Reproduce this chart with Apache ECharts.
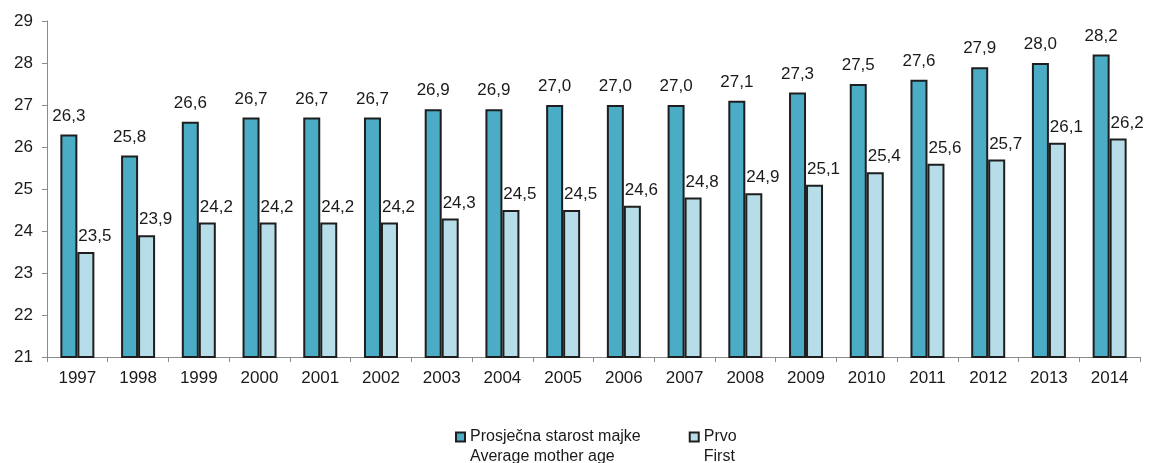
<!DOCTYPE html>
<html>
<head>
<meta charset="utf-8">
<script src="https://cdn.jsdelivr.net/npm/echarts@6/dist/echarts.min.js"></script>
<style>
html,body{margin:0;padding:0;background:#fff;}
#c{width:1158px;height:463px;}
</style>
</head>
<body>
<div id="c"></div>
<script>
var years = ['1997','1998','1999','2000','2001','2002','2003','2004','2005','2006','2007','2008','2009','2010','2011','2012','2013','2014'];
var averageAge = [26.3,25.8,26.6,26.7,26.7,26.7,26.9,26.9,27.0,27.0,27.0,27.1,27.3,27.5,27.6,27.9,28.0,28.2];
var firstChild = [23.5,23.9,24.2,24.2,24.2,24.2,24.3,24.5,24.5,24.6,24.8,24.9,25.1,25.4,25.6,25.7,26.1,26.2];
var seriesNames = ['Prosječna starost majke\nAverage mother age', 'Prvo\nFirst'];

var FONT = 'Liberation Sans, Arial, sans-serif';
function fmt(p){ return p.value.toFixed(1).replace('.', ','); }

var chart = echarts.init(document.getElementById('c'));
chart.setOption({
  animation: false,
  textStyle: {fontFamily: FONT},
  grid: {left: 47, right: 18, top: 21, bottom: 106},
  legend: {
    left: 455, top: 407, padding: 0,
    icon: 'rect',
    itemWidth: 9, itemHeight: 9, itemGap: 48,
    formatter: function (name) { return '\n' + name; },
    textStyle: {fontSize: 16, color: '#1a1a1a', fontFamily: FONT, lineHeight: 20},
    data: seriesNames
  },
  xAxis: {
    type: 'category',
    data: years,
    axisLine: {lineStyle: {color: '#8a8a8a', width: 1}},
    axisTick: {show: true, length: 5, lineStyle: {color: '#8a8a8a'}},
    axisLabel: {fontSize: 17, color: '#1a1a1a', margin: 13, fontFamily: FONT}
  },
  yAxis: {
    type: 'value',
    min: 21, max: 29, interval: 1,
    splitLine: {show: false},
    axisLine: {show: true, lineStyle: {color: '#8a8a8a', width: 1}},
    axisTick: {show: true, length: 5, lineStyle: {color: '#8a8a8a'}},
    axisLabel: {fontSize: 17, color: '#1a1a1a', margin: 14, fontFamily: FONT}
  },
  series: [
    {
      name: seriesNames[0],
      type: 'bar',
      data: averageAge,
      barWidth: 17,
      barGap: '0%',
      itemStyle: {color: '#4BACC6', borderColor: '#1e1e1e', borderWidth: 2},
      label: {show: true, position: 'top', distance: 10, fontSize: 17, color: '#1a1a1a', fontFamily: FONT, formatter: fmt}
    },
    {
      name: seriesNames[1],
      type: 'bar',
      data: firstChild,
      barWidth: 17,
      barGap: '0%',
      itemStyle: {color: '#B7DEE8', borderColor: '#1e1e1e', borderWidth: 2},
      label: {show: true, position: 'top', distance: 7, offset: [9, 0], fontSize: 17, color: '#1a1a1a', fontFamily: FONT, formatter: fmt}
    }
  ]
});
</script>
</body>
</html>
